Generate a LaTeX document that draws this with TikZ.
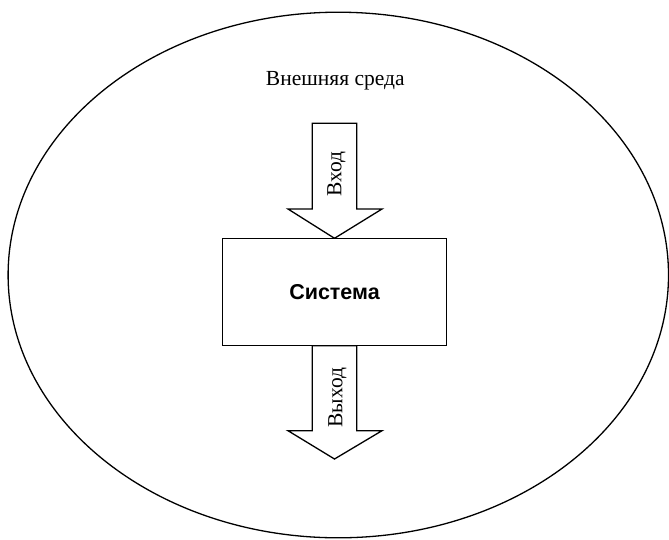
\documentclass[tikz,border=0pt]{standalone}
\usepackage{fontspec}
\setmainfont{Liberation Serif}
\newfontfamily\arialfont{Liberation Sans}
\begin{document}
\begin{tikzpicture}[x=1pt,y=-1pt,
  outline/.style={draw=black,line width=1.3pt,line join=miter},
  blockarrow/.style={outline,fill=white},
  lbl/.style={font=\fontsize{21.5}{24}\selectfont,inner sep=0pt},
  sysbox/.style={outline,fill=white,minimum width=224.4pt,minimum height=107.4pt,inner sep=0pt,
    font=\arialfont\bfseries\fontsize{21.5}{24}\selectfont}]
\useasboundingbox (0,0) rectangle (669,539);
\draw[outline] (338.3,275) ellipse [x radius=330.2, y radius=262.8];
\node[lbl,anchor=base] (env) at (335.3,85) {Внешняя среда};
% input arrow
\draw[blockarrow] (312.3,123.3) -- (356.7,123.3) -- (356.7,209) -- (382,209) -- (334.5,238.3)
  -- (288,209) -- (312.3,209) -- cycle;
% output arrow
\draw[blockarrow] (312.3,345.7) -- (356.7,345.7) -- (356.7,430.7) -- (382,430.7) -- (334.5,459)
  -- (288,430.7) -- (312.3,430.7) -- cycle;
\node[sysbox] (sys) at (334.5,292) {Система};
\node[lbl,rotate=90] (inlbl) at (336.5,174) {Вход};
\node[lbl,rotate=90] (outlbl) at (337.5,397.5) {Выход};
\end{tikzpicture}
\end{document}
